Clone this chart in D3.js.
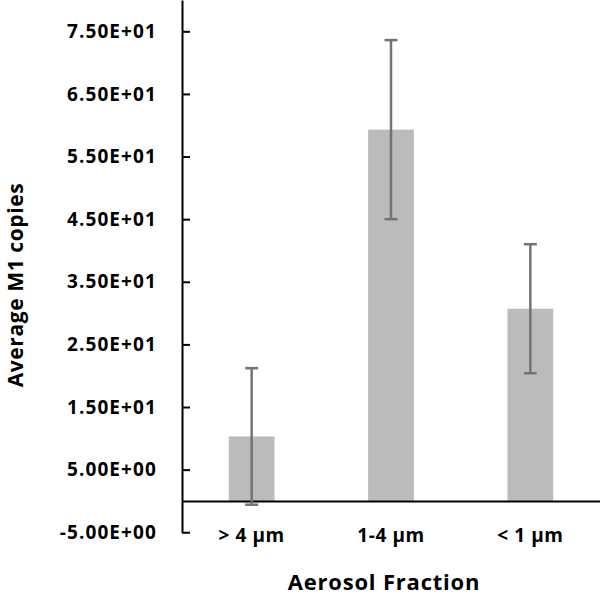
<!DOCTYPE html>
<html>
<head>
<meta charset="utf-8">
<script src="https://cdn.jsdelivr.net/npm/d3@7"></script>
<style>
  html, body { margin: 0; padding: 0; background: #fff; }
  svg text { font-family: "Open Sans", sans-serif; font-weight: 700; fill: #000; }
</style>
</head>
<body>
<svg id="chart" width="600" height="597"></svg>
<script>
const categories = ["> 4 \u00b5m", "1-4 \u00b5m", "< 1 \u00b5m"];
const means = [10.3, 59.3, 30.7];
const errors = [10.9, 14.3, 10.3];
const yTicks = [-5, 5, 15, 25, 35, 45, 55, 65, 75];
const yTickLabels = ["-5.00E+00", "5.00E+00", "1.50E+01", "2.50E+01", "3.50E+01", "4.50E+01", "5.50E+01", "6.50E+01", "7.50E+01"];

const svg = d3.select("#chart");
const x0 = 182, x1 = 600;

const y = d3.scaleLinear().domain([-5, 80]).range([532.25, 0]);
const x = d3.scaleBand().domain(categories).range([x0, x1]).paddingInner(0.672).paddingOuter(0.336);

// Y axis
const yAxis = d3.axisLeft(y)
  .tickValues(yTicks)
  .tickFormat((d, i) => yTickLabels[i])
  .tickSizeInner(-8)
  .tickSizeOuter(0)
  .tickPadding(25);
const gy = svg.append("g").attr("transform", `translate(${x0},0)`).call(yAxis);
gy.select(".domain").attr("stroke", "#000").attr("stroke-width", 2);
gy.selectAll(".tick line").attr("stroke", "#000").attr("stroke-width", 2);
gy.selectAll(".tick text")
  .style("font-size", "19px")
  .style("letter-spacing", "1.1px")
  .attr("fill", "#000");

// Bars
const data = categories.map((c, i) => ({c, m: means[i], e: errors[i]}));
svg.append("g").selectAll("rect").data(data).join("rect")
  .attr("x", d => x(d.c))
  .attr("width", x.bandwidth())
  .attr("y", d => y(Math.max(0, d.m)))
  .attr("height", d => Math.abs(y(d.m) - y(0)))
  .attr("fill", "#bbbbbb");

// X axis (zero line)
const xAxis = d3.axisBottom(x).tickSizeInner(0).tickSizeOuter(0).tickPadding(28);
const gx = svg.append("g").attr("transform", `translate(0,${y(0)})`).call(xAxis);
gx.select(".domain").attr("stroke", "#000").attr("stroke-width", 2);
gx.selectAll(".tick text").style("font-size", "19px").style("letter-spacing", "0.6px").attr("fill", "#000");

// Error bars
const cap = 6.5;
const eb = svg.append("g").attr("stroke", "#737373").attr("stroke-width", 2.5);
data.forEach(d => {
  const cx = x(d.c) + x.bandwidth() / 2;
  eb.append("line").attr("x1", cx).attr("x2", cx).attr("y1", y(d.m + d.e)).attr("y2", y(d.m - d.e));
  eb.append("line").attr("x1", cx - cap).attr("x2", cx + cap).attr("y1", y(d.m + d.e)).attr("y2", y(d.m + d.e));
  eb.append("line").attr("x1", cx - cap).attr("x2", cx + cap).attr("y1", y(d.m - d.e)).attr("y2", y(d.m - d.e));
});

// Titles
svg.append("text")
  .attr("transform", "translate(23,285) rotate(-90)")
  .attr("text-anchor", "middle")
  .style("font-size", "21px")
  .style("letter-spacing", "0.6px")
  .text("Average M1 copies");
svg.append("text")
  .attr("x", 384).attr("y", 590)
  .attr("text-anchor", "middle")
  .style("font-size", "22px")
  .style("letter-spacing", "0.8px")
  .text("Aerosol Fraction");
</script>
</body>
</html>
